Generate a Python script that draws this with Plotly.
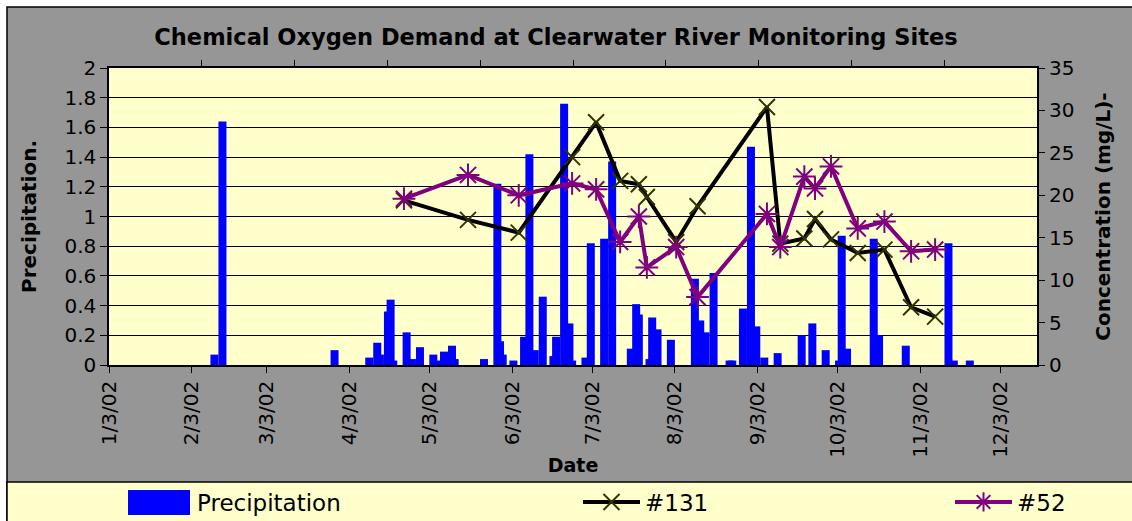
import plotly.graph_objects as go

# ---------------- data ----------------
BAR_DATES = [
    "2002-02-11", "2002-02-14", "2002-03-28", "2002-04-10", "2002-04-13", "2002-04-14",
    "2002-04-17", "2002-04-18", "2002-04-19", "2002-04-24", "2002-04-26", "2002-04-29",
    "2002-05-04", "2002-05-05", "2002-05-08", "2002-05-11", "2002-05-12", "2002-05-23",
    "2002-05-28", "2002-05-29", "2002-05-30", "2002-06-03", "2002-06-07", "2002-06-09",
    "2002-06-11", "2002-06-14", "2002-06-18", "2002-06-19", "2002-06-22", "2002-06-24",
    "2002-06-25", "2002-06-30", "2002-07-02", "2002-07-07", "2002-07-10", "2002-07-17",
    "2002-07-19", "2002-07-20", "2002-07-24", "2002-07-25", "2002-07-27", "2002-08-01",
    "2002-08-10", "2002-08-12", "2002-08-14", "2002-08-17", "2002-08-23", "2002-08-24",
    "2002-08-28", "2002-08-31", "2002-09-02", "2002-09-05", "2002-09-10", "2002-09-19",
    "2002-09-23", "2002-09-28", "2002-10-03", "2002-10-04", "2002-10-06", "2002-10-16",
    "2002-10-18", "2002-10-28", "2002-11-13", "2002-11-15", "2002-11-21",
]
PRECIP = [
    0.07, 1.64, 0.10, 0.05, 0.15, 0.07,
    0.36, 0.44, 0.03, 0.22, 0.04, 0.12,
    0.07, 0.03, 0.09, 0.13, 0.04, 0.04,
    1.22, 0.16, 0.07, 0.03, 0.19, 1.42,
    0.10, 0.46, 0.06, 0.19, 1.76, 0.28,
    0.03, 0.05, 0.82, 0.85, 1.37, 0.11,
    0.41, 0.34, 0.04, 0.32, 0.24, 0.17,
    0.58, 0.30, 0.22, 0.62, 0.03, 0.03,
    0.38, 1.47, 0.26, 0.05, 0.08, 0.20,
    0.28, 0.10, 0.03, 0.87, 0.11, 0.85,
    0.20, 0.13, 0.82, 0.03, 0.03,
]

SAMPLE_DATES = [
    "2002-04-23", "2002-05-17", "2002-06-05", "2002-06-25", "2002-07-04", "2002-07-13",
    "2002-07-20", "2002-07-23", "2002-08-03", "2002-08-11", "2002-09-06", "2002-09-11",
    "2002-09-20", "2002-09-24", "2002-09-30", "2002-10-10", "2002-10-20", "2002-10-30",
    "2002-11-08",
]
SITE_131 = [19.4, 17.1, 15.6, 24.5, 28.6, 21.7, 21.3, 19.8, 14.5, 18.7,
            30.4, 14.3, 14.9, 17.2, 14.8, 13.2, 13.6, 6.8, 5.7]
SITE_52 = [19.6, 22.4, 20.0, 21.4, 20.7, 14.5, 17.5, 11.5, 13.9, 8.0,
           17.8, 13.9, 22.2, 20.8, 23.4, 16.1, 16.9, 13.4, 13.6]

X_TICK_DATES = ["2002-01-03", "2002-02-03", "2002-03-03", "2002-04-03", "2002-05-03",
                "2002-06-03", "2002-07-03", "2002-08-03", "2002-09-03", "2002-10-03",
                "2002-11-03", "2002-12-03"]
X_TICK_LABELS = ["1/3/02", "2/3/02", "3/3/02", "4/3/02", "5/3/02", "6/3/02",
                 "7/3/02", "8/3/02", "9/3/02", "10/3/02", "11/3/02", "12/3/02"]
P_TICKS = [0, 0.2, 0.4, 0.6, 0.8, 1, 1.2, 1.4, 1.6, 1.8, 2]
P_TICK_LABELS = ["0", "0.2", "0.4", "0.6", "0.8", "1", "1.2", "1.4", "1.6", "1.8", "2"]
C_TICKS = [0, 5, 10, 15, 20, 25, 30, 35]
TOP_TICKS = [1, 2, 3, 4, 5, 6, 7, 8, 9]

# ---------------- layout geometry ----------------
W, H = 1132, 521
L, R, T, B = 109, 95, 68, 156
PW, PH = W - L - R, H - T - B
DAY_MS = 86400000

def px(xp):
    return (xp - L) / PW

def py(yp):
    return (H - B - yp) / PH

FONT = "DejaVu Sans"
GRAY = "#969696"
YELLOW = "#FFFFCC"

fig = go.Figure()

fig.add_trace(go.Bar(
    x=BAR_DATES, y=PRECIP, name="Precipitation",
    xperiod=DAY_MS, xperiodalignment="middle",
    width=3 * DAY_MS,
    marker=dict(color="#0000FF", line=dict(width=0)),
    yaxis="y", legend="legend",
))
fig.add_trace(go.Scatter(
    x=SAMPLE_DATES, y=SITE_131, name="#131", mode="lines+markers",
    xperiod=DAY_MS, xperiodalignment="middle",
    line=dict(color="black", width=4),
    marker=dict(symbol="x-thin-open", size=16, color="#333300",
                line=dict(color="#333300", width=2)),
    yaxis="y2", legend="legend2",
))
fig.add_trace(go.Scatter(
    x=SAMPLE_DATES, y=SITE_52, name="#52", mode="lines+markers",
    xperiod=DAY_MS, xperiodalignment="middle",
    line=dict(color="#800080", width=4),
    marker=dict(symbol="asterisk-open", size=19, color="#800080",
                line=dict(color="#800080", width=2)),
    yaxis="y2", legend="legend3",
))
# carrier for the top (secondary category) axis ticks
fig.add_trace(go.Scatter(x=[None], y=[None], xaxis="x2", yaxis="y",
                         showlegend=False, hoverinfo="skip"))

legend_common = dict(orientation="h", yanchor="middle", xanchor="left",
                     bgcolor="rgba(0,0,0,0)", borderwidth=0,
                     font=dict(family=FONT, size=23, color="black"))

fig.update_layout(
    width=W, height=H, autosize=False,
    margin=dict(l=L, r=R, t=T, b=B, autoexpand=False),
    paper_bgcolor=GRAY, plot_bgcolor=YELLOW,
    barmode="overlay",
    title=dict(text="<b>Chemical Oxygen Demand at Clearwater River Monitoring Sites</b>",
               x=556 / W, xanchor="center", y=1 - 37 / H, yanchor="middle",
               automargin=False,
               font=dict(family=FONT, size=22.5, color="black")),
    xaxis=dict(type="date", range=["2002-01-03", "2002-12-16 16:00"], automargin=False,
               tickmode="array", tickvals=X_TICK_DATES, ticktext=X_TICK_LABELS,
               tickangle=-90, ticks="outside", ticklen=6, tickcolor="black",
               showline=True, linecolor="black", linewidth=1.5, mirror=True,
               showgrid=False, zeroline=False,
               tickfont=dict(family=FONT, size=20, color="black"),
               title=dict(text="Date", standoff=2,
                          font=dict(family=FONT, size=19, color="black", weight="bold"))),
    xaxis2=dict(overlaying="x", side="top", range=[0, 10], tickmode="array", automargin=False,
                tickvals=TOP_TICKS, ticks="outside", ticklen=7, tickcolor="black",
                showticklabels=False, showgrid=False, zeroline=False, showline=False),
    yaxis=dict(range=[0, 2], tickmode="array", tickvals=P_TICKS, ticktext=P_TICK_LABELS,
               automargin=False,
               ticks="outside", ticklen=7, tickcolor="black",
               showgrid=True, gridcolor="black", gridwidth=1,
               showline=True, linecolor="black", linewidth=1.5, mirror=True,
               zeroline=False,
               tickfont=dict(family=FONT, size=20, color="black"),
               title=dict(text="Precipitation.", standoff=22,
                          font=dict(family=FONT, size=20, color="black", weight="bold"))),
    yaxis2=dict(overlaying="y", side="right", range=[0, 35], tickmode="array",
                automargin=False,
                tickvals=C_TICKS, ticks="outside", ticklen=7, tickcolor="black",
                showgrid=False, zeroline=False, showline=False,
                tickfont=dict(family=FONT, size=20, color="black"),
                title=dict(text="Concentration (mg/L)-", standoff=22,
                           font=dict(family=FONT, size=20, color="black", weight="bold"))),
    legend=dict(x=px(125), y=py(502), itemwidth=62, **legend_common),
    legend2=dict(x=px(578), y=py(502), itemwidth=57, **legend_common),
    legend3=dict(x=px(950), y=py(502), itemwidth=57, **legend_common),
    shapes=[
        # white strips outside the chart frame
        dict(type="rect", xref="paper", yref="paper", x0=px(-20), x1=px(W + 20),
             y0=py(7), y1=py(-20), fillcolor="white", line=dict(width=0), layer="below"),
        dict(type="rect", xref="paper", yref="paper", x0=px(-20), x1=px(7),
             y0=py(H + 20), y1=py(-20), fillcolor="white", line=dict(width=0), layer="below"),
        # chart frame
        dict(type="rect", xref="paper", yref="paper", x0=px(7), x1=px(W + 20),
             y0=py(H + 20), y1=py(7), fillcolor="rgba(0,0,0,0)",
             line=dict(color="black", width=1.5), layer="below"),
        # legend box
        dict(type="rect", xref="paper", yref="paper", x0=px(7), x1=px(W + 20),
             y0=py(H + 20), y1=py(482), fillcolor=YELLOW,
             line=dict(color="black", width=1.5), layer="below"),
        # large legend swatch for precipitation
        dict(type="rect", xref="paper", yref="paper", x0=px(128), x1=px(190),
             y0=py(515), y1=py(490), fillcolor="#0000FF", line=dict(width=0), layer="above"),
    ],
)

fig.write_html("out.html",
               config={"displayModeBar": False},
               post_script="document.body.style.margin='0px';document.body.style.overflow='hidden';")
